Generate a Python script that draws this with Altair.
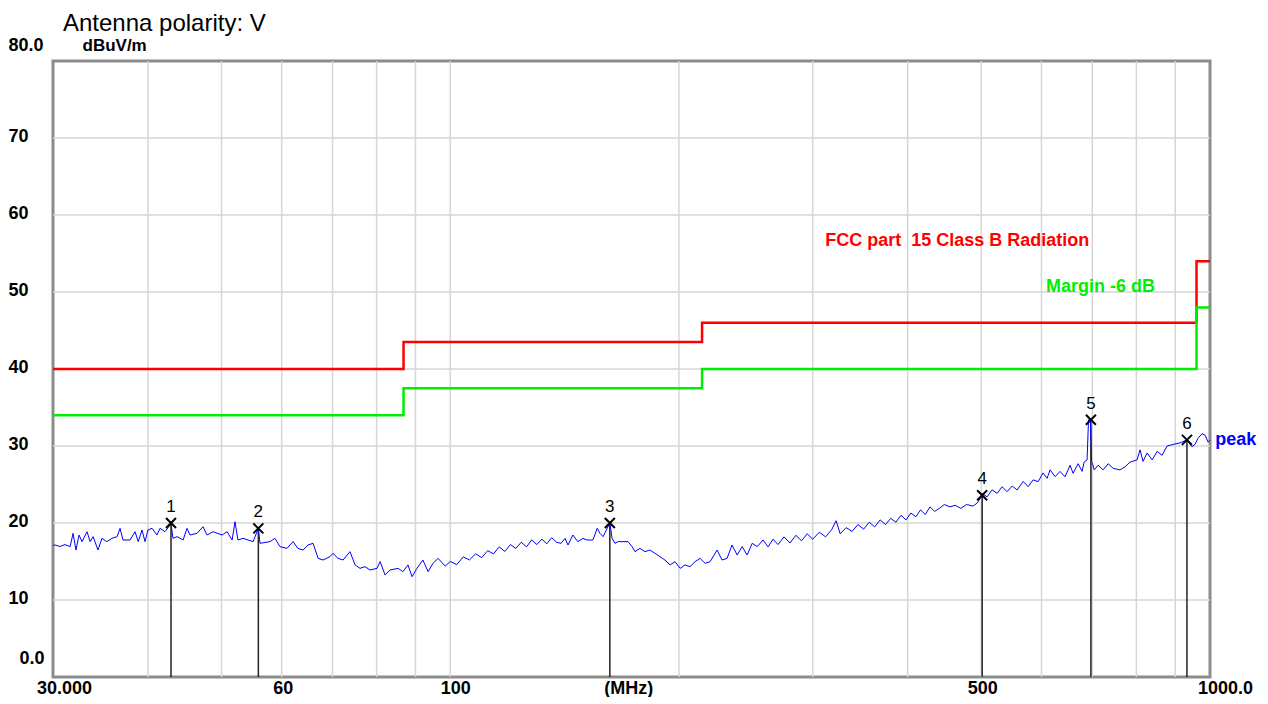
import altair as alt
import pandas as pd

title_text = "Antenna polarity: V"
y_unit = "dBuV/m"

# peak trace (MHz, dBuV/m)
trace_freq = [
    30.0, 30.19, 30.65, 31.11, 31.6, 31.88, 32.16, 32.46, 32.76, 33.26, 33.57, 33.88,
    34.38, 34.8, 35.32, 35.87, 36.43, 36.76, 37.09, 37.89, 38.47, 38.84, 39.29, 39.65,
    40.0, 40.5, 41.11, 41.49, 42.13, 42.9, 43.16, 43.7, 44.5, 45.03, 45.44, 46.42,
    47.27, 47.84, 48.73, 50.08, 50.85, 51.63, 52.08, 52.55, 53.36, 55.02, 55.9, 56.18,
    57.91, 58.78, 59.69, 60.97, 62.1, 63.0, 64.0, 64.98, 65.98, 67.0, 68.0, 69.45,
    70.08, 71.16, 72.26, 73.8, 74.95, 76.07, 77.23, 78.4, 80.1, 80.85, 82.07, 83.3,
    85.4, 86.64, 87.97, 89.06, 90.4, 92.04, 93.5, 94.9, 96.35,
    98.5, 100, 102, 104, 106, 108, 110, 112, 114, 116, 118, 120, 122, 124, 126, 128,
    130, 132, 134, 136, 138,
    139.9, 141.6, 142.9, 145.0, 147.2, 149.5, 151.4, 154.1, 156.1, 157.4, 158.9, 162.2,
    163.3, 164.7, 166.3, 171.4, 173.5, 175.0, 177.7, 180.4, 183.1, 186.0, 188.8, 191.7,
    194.7, 197.6, 200.7, 203.7, 206.8, 210.0, 213.2, 216.5, 219.8, 224.5, 227.9, 231.4,
    234.9, 238.6, 242.2, 245.9, 249.7, 253.6,
    258, 262, 266, 270, 275, 280, 285, 290, 295, 300, 306, 312, 318, 322, 326, 332,
    338, 344, 350, 356, 362, 368, 374, 380, 386, 392, 398, 404, 410, 416, 422, 428,
    434, 440.3, 447, 454.7, 462, 470, 478, 487.8, 494, 498.2, 501.3,
    508.9, 516.6, 524.6, 532.6, 540.6, 549.0, 557.4, 567.7, 576.3, 585.0, 594.0, 602.9,
    610.3, 615.9, 625.4, 634.8, 644.4, 654.4, 660.4, 670.6, 678.6, 682.8, 689.0, 692.0,
    696.0, 698.5, 700.5, 703.9, 712.4, 723.3, 734.4, 745.6, 761.4, 773.0, 784.6, 801.7,
    808.9, 816.3, 826.4, 839.1, 852.0, 864.8, 877.9, 893.9, 913.0, 932.5, 946.6, 955.3,
    964.2, 976.2, 985.3, 994.4, 1000,
]
trace_level = [
    17.1, 17.14, 16.95, 17.2, 16.93, 18.66, 16.49, 18.44, 17.58, 18.87, 17.58, 18.23,
    16.49, 18.01, 17.58, 18.01, 18.23, 19.31, 17.79, 17.79, 18.87, 17.58, 19.09, 17.58,
    19.09, 19.31, 18.44, 19.31, 18.87, 19.9, 18.01, 18.23, 17.79, 19.31, 18.44, 18.66,
    19.52, 18.44, 18.87, 18.44, 18.87, 17.79, 20.17, 17.79, 18.01, 17.58, 19.3, 17.36,
    17.58, 18.01, 16.93, 16.71, 17.58, 16.71, 16.49, 17.14, 17.36, 15.41, 15.19, 15.63,
    16.06, 15.41, 15.19, 16.28, 14.55, 14.11, 14.33, 13.9, 14.11, 14.98, 13.25, 13.9,
    14.11, 13.68, 14.55, 13.03, 14.11, 15.19, 13.68, 14.76, 15.41,
    14.4, 15.0, 14.6, 15.6, 15.2, 16.0, 15.5, 16.4, 16.0, 16.9, 16.3, 17.2, 16.7, 17.5,
    16.9, 17.8, 17.2, 17.9, 17.3, 18.1, 17.5,
    17.36, 18.0, 17.14, 18.44, 17.58, 18.0, 17.79, 17.79, 19.31, 18.66, 18.23, 20.0,
    18.01, 17.36, 17.58, 17.58, 16.93, 16.28, 16.71, 16.28, 16.49, 16.06, 15.63, 15.19,
    14.55, 14.98, 14.11, 14.55, 14.33, 14.98, 15.41, 14.76, 14.98, 16.49, 15.19, 15.41,
    17.14, 15.84, 16.93, 15.84, 17.36, 16.93,
    17.8, 16.9, 17.9, 17.2, 18.2, 17.4, 18.4, 17.7, 18.6, 17.9, 18.8, 18.2, 19.2, 20.3,
    18.6, 19.4, 18.9, 19.8, 19.2, 20.1, 19.5, 20.4, 19.8, 20.6, 20.1, 21.0, 20.4, 21.3,
    20.8, 21.7, 21.1, 22.1, 21.5, 21.9, 22.4, 22.1, 22.3, 21.9, 22.4, 22.2, 22.6, 23.2,
    23.8,
    23.4, 24.3, 23.85, 24.7, 24.07, 24.8, 24.29, 25.4, 24.72, 25.6, 25.37, 26.5,
    25.8, 26.9, 26.02, 26.7, 26.0, 27.5, 26.45, 27.7, 26.7, 27.9, 28.2, 33.4,
    33.4, 28.0, 27.7, 26.9, 27.5, 26.9, 27.7, 27.1, 26.9, 27.3, 27.9, 28.2,
    29.5, 28.0, 29.1, 28.2, 29.3, 28.8, 30.0, 30.2, 30.4, 30.8, 29.9, 30.2,
    31.0, 31.6, 31.4, 30.5, 30.8,
]

# limit lines (step after)
limit_freq = [30, 86.8, 214.5, 960, 1000]
fcc_level = [40, 43.5, 46, 54, 54]
margin_level = [34, 37.5, 40, 48, 48]

# markers
marker_id = ["1", "2", "3", "4", "5", "6"]
marker_freq = [42.9, 55.9, 162.2, 501.3, 697.0, 932.5]
marker_level = [20.0, 19.3, 20.0, 23.6, 33.4, 30.8]

# grid
grid_freq = [40, 50, 60, 70, 80, 90, 100, 200, 300, 400, 500, 600, 700, 800, 900]
grid_level = [10, 20, 30, 40, 50, 60, 70]

# tick labels
x_tick_values = [30, 60, 100, 171, 500, 1000]
x_tick_labels = ["30.000", "60", "100", "(MHz)", "500", "1000.0"]
y_tick_values = [0, 10, 20, 30, 40, 50, 60, 70, 80]
y_tick_labels = ["0.0", "10", "20", "30", "40", "50", "60", "70", "80.0"]

# annotations
annot_text = ["FCC part \u00a015 Class B Radiation", "Margin -6 dB", "peak"]
annot_freq = [311.5, 608.5, 1016]
annot_level = [56.6, 50.6, 30.8]
annot_colors = ["#ff0000", "#00ee00", "#0000ff"]


def map_expr(vals, labels):
    s = "''"
    for v, l in reversed(list(zip(vals, labels))):
        s = f"datum.value == {v} ? '{l}' : {s}"
    return s


FONT = "Liberation Sans"
xs = alt.Scale(type="log", domain=[30, 1000], nice=False)
ys = alt.Scale(domain=[0, 80], nice=False)

x_axis = alt.Axis(
    values=x_tick_values,
    labelExpr=map_expr(x_tick_values, x_tick_labels),
    title=None, grid=False, domain=False, ticks=False, tickSize=0,
    labelFont=FONT, labelFontSize=18, labelFontWeight="bold", labelColor="black",
    labelAlign="center", labelBaseline="middle", labelPadding=11,
    labelFlush=False, labelOverlap=False,
    labelOffset={"condition": [
        {"test": "datum.value == 30", "value": 11},
        {"test": "datum.value == 1000", "value": 15},
        {"test": "datum.value == 100", "value": 5},
    ], "value": 1},
)
y_axis = alt.Axis(
    values=y_tick_values,
    labelExpr=map_expr(y_tick_values, y_tick_labels),
    title=y_unit, titleAngle=0, titleX=29, titleY=-16, titleAlign="left",
    titleBaseline="middle", titleFont=FONT, titleFontSize=17, titleFontWeight="bold",
    titleColor="black",
    grid=False, domain=False, ticks=False, tickSize=0,
    labelFont=FONT, labelFontSize=18, labelFontWeight="bold", labelColor="black",
    labelAlign="left", labelBaseline="middle", labelFlush=False, labelOverlap=False,
    labelPadding={"condition": {"test": "datum.value == 0", "value": 34}, "value": 45},
    labelOffset={"condition": [
        {"test": "datum.value == 0", "value": -19},
        {"test": "datum.value == 80", "value": -16},
    ], "value": -2},
)


def X():
    return alt.X("f:Q", scale=xs, axis=x_axis)


def Y():
    return alt.Y("v:Q", scale=ys, axis=y_axis)


trace_df = pd.DataFrame({"f": trace_freq, "v": trace_level})
fcc_df = pd.DataFrame({"f": limit_freq, "v": fcc_level})
margin_df = pd.DataFrame({"f": limit_freq, "v": margin_level})
marker_df = pd.DataFrame({"id": marker_id, "f": marker_freq, "v": marker_level})
gridx_df = pd.DataFrame({"f": grid_freq})
gridy_df = pd.DataFrame({"v": grid_level})
annot_df = pd.DataFrame({"t": annot_text, "f": annot_freq, "v": annot_level})
title_df = pd.DataFrame({"t": [title_text]})

grid_v = alt.Chart(gridx_df).mark_rule(color="#d6d6d6", strokeWidth=1.5).encode(x=X())
grid_h = alt.Chart(gridy_df).mark_rule(color="#d6d6d6", strokeWidth=1.5).encode(y=Y())

fcc = alt.Chart(fcc_df).mark_line(color="#ff0000", strokeWidth=2.5, interpolate="step-after").encode(x=X(), y=Y())
margin = alt.Chart(margin_df).mark_line(color="#00ee00", strokeWidth=2.5, interpolate="step-after").encode(x=X(), y=Y())

marker_lines = alt.Chart(marker_df).mark_rule(color="#222222", strokeWidth=1.5).encode(
    x=X(), y=Y(), y2=alt.datum(0))

trace = alt.Chart(trace_df).mark_line(color="#0000ff", strokeWidth=1).encode(x=X(), y=Y())

marker_x = alt.Chart(marker_df).mark_point(
    shape="M-1,-1L1,1M-1,1L1,-1", size=100, strokeWidth=2, color="black", filled=False, opacity=1
).encode(x=X(), y=Y())

marker_txt = alt.Chart(marker_df).mark_text(
    dy=-16, font=FONT, fontSize=17, color="black"
).encode(x=X(), y=Y(), text="id:N")

annots = alt.Chart(annot_df).mark_text(
    align="left", baseline="middle", font=FONT, fontSize=18, fontWeight="bold"
).encode(
    x=X(), y=Y(), text="t:N",
    color=alt.Color("t:N", scale=alt.Scale(domain=annot_text, range=annot_colors), legend=None),
)

title_mark = alt.Chart(title_df).mark_text(
    align="left", baseline="alphabetic", font=FONT, fontSize=24, color="black"
).encode(x=alt.value(10), y=alt.value(-30), text="t:N")

chart = alt.layer(
    grid_v, grid_h, fcc, margin, marker_lines, trace, marker_x, marker_txt, annots, title_mark
).properties(
    width=1157, height=616,
    autosize=alt.AutoSizeParams(type="none"),
    padding={"left": 45, "top": 53, "right": 50, "bottom": 20},
).configure_view(stroke="#8c8c8c", strokeWidth=3)

chart.save("out.html", embed_options={"renderer": "svg", "actions": False})
